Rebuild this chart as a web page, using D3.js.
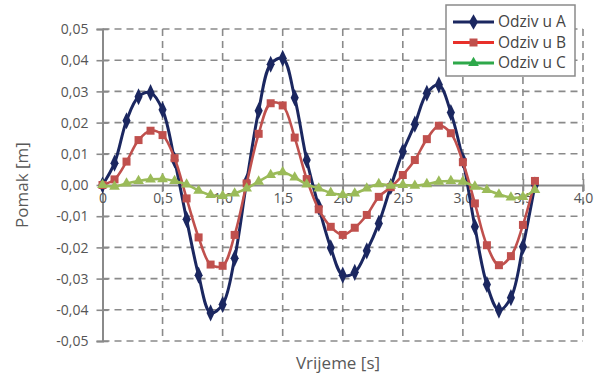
<!DOCTYPE html>
<html>
<head>
<meta charset="utf-8">
<script src="https://cdn.jsdelivr.net/npm/d3@7"></script>
<style>
  html, body { margin: 0; padding: 0; background: #fff; }
  svg { display: block; font-family: "Open Sans", sans-serif; }
  .tick-label { fill: #555; font-size: 14px; }
  .axis-title { fill: #595959; font-size: 17px; }
</style>
</head>
<body>
<div id="chart"></div>
<script>
'use strict';

// time steps [s]
const times = [0, 0.1, 0.2, 0.3, 0.4, 0.5, 0.6, 0.7, 0.8, 0.9, 1.0, 1.1, 1.2, 1.3, 1.4, 1.5, 1.6, 1.7, 1.8,
  1.9, 2.0, 2.1, 2.2, 2.3, 2.4, 2.5, 2.6, 2.7, 2.8, 2.9, 3.0, 3.1, 3.2, 3.3, 3.4, 3.5, 3.6];

const odzivA = [0, 0.0070, 0.0206, 0.0283, 0.0296, 0.0241, 0.0080, -0.0110, -0.0289, -0.0410, -0.0383,
  -0.0235, 0.0010, 0.0238, 0.0387, 0.0406, 0.0280, 0.0080, -0.0070, -0.0201, -0.0289, -0.0280, -0.0211,
  -0.0123, -0.0005, 0.0107, 0.0195, 0.0294, 0.0321, 0.0232, 0.0080, -0.0134, -0.0319, -0.0401, -0.0361,
  -0.0198, 0.0000];

const odzivB = [0, 0.0018, 0.0075, 0.0144, 0.0174, 0.0160, 0.0086, -0.0043, -0.0168, -0.0255, -0.0259,
  -0.0160, 0.0005, 0.0164, 0.0262, 0.0255, 0.0152, 0.0019, -0.0078, -0.0134, -0.0160, -0.0137, -0.0096,
  -0.0038, -0.0007, 0.0032, 0.0080, 0.0147, 0.0190, 0.0166, 0.0073, -0.0059, -0.0193, -0.0257, -0.0228,
  -0.0128, 0.0013];

const odzivC = [0, -0.0005, 0.0005, 0.0013, 0.0018, 0.0019, 0.0013, 0.0002, -0.0018, -0.0032, -0.0035,
  -0.0027, -0.0011, 0.0011, 0.0032, 0.0041, 0.0024, 0.0002, -0.0011, -0.0025, -0.0032, -0.0027, -0.0011,
  0.0003, -0.0002, 0.0000, -0.0002, 0.0003, 0.0011, 0.0013, 0.0011, -0.0005, -0.0016, -0.0030, -0.0040,
  -0.0038, -0.0016];

const seriesNames = ['Odziv u A', 'Odziv u B', 'Odziv u C'];
const xTicks = [0, 0.5, 1.0, 1.5, 2.0, 2.5, 3.0, 3.5, 4.0];
const yTicks = [-0.05, -0.04, -0.03, -0.02, -0.01, 0, 0.01, 0.02, 0.03, 0.04, 0.05];

const fmtY = (d) => d.toFixed(2).replace('.', ',').replace('-0,00', '0,00');
const fmtX = (d) => d === 0 ? '0' : d.toFixed(1).replace('.', ',');

const width = 605, height = 376;
const padding = { top: 29, right: 22, bottom: 35, left: 102.5 };
const innerWidth = width - padding.left - padding.right;
const innerHeight = height - padding.top - padding.bottom;

const svg = d3.select('#chart').append('svg')
  .attr('width', width)
  .attr('height', height);

const graph = svg.append('g')
  .attr('transform', 'translate(' + padding.left + ',' + padding.top + ')');

let x = d3.scaleLinear().domain([0, 4]).range([0, innerWidth]),
  y = d3.scaleLinear().domain([-0.05, 0.05]).range([innerHeight, 0]);

const gridColor = '#8a8a8a';

// dashed grid
graph.append('g').selectAll('line').data(yTicks).enter()
  .append('line')
  .attr('x1', 0).attr('x2', innerWidth)
  .attr('y1', (d) => y(d)).attr('y2', (d) => y(d))
  .attr('stroke', gridColor).attr('stroke-width', 1.6)
  .attr('stroke-dasharray', '7,5')
  .style('display', (d) => d === 0 ? 'none' : null);

graph.append('g').selectAll('line').data(xTicks.slice(1)).enter()
  .append('line')
  .attr('x1', (d) => x(d)).attr('x2', (d) => x(d))
  .attr('y1', 0).attr('y2', innerHeight)
  .attr('stroke', gridColor).attr('stroke-width', 1.6)
  .attr('stroke-dasharray', '7,5');

// y axis (ticks on both sides)
const yAxis = d3.axisLeft(y).tickValues(yTicks).tickSize(6).tickFormat(fmtY);
const yG = graph.append('g').call(yAxis);
yG.attr('font-size', null).attr('font-family', null);
yG.select('.domain').attr('stroke', gridColor).attr('stroke-width', 2);
yG.selectAll('.tick line').attr('x1', 6).attr('x2', -6).attr('stroke', gridColor).attr('stroke-width', 1.6);
yG.selectAll('.tick text').attr('class', 'tick-label').attr('x', -14).attr('dy', '0.34em');

// x axis at y = 0
const xAxis = d3.axisBottom(x).tickValues(xTicks).tickSize(6).tickFormat(fmtX);
const xG = graph.append('g')
  .attr('transform', 'translate(0,' + y(0) + ')')
  .call(xAxis);
xG.attr('font-size', null).attr('font-family', null);
xG.select('.domain').attr('stroke', gridColor).attr('stroke-width', 2);
xG.selectAll('.tick line').attr('y1', -6).attr('y2', 6).attr('stroke', gridColor).attr('stroke-width', 1.6);
xG.selectAll('.tick text').attr('class', 'tick-label').attr('y', 8).attr('dy', '0.71em');

// series
const series = [
  { name: seriesNames[0], values: odzivA, color: '#1b2760', legendColor: '#1b2760', symbol: d3.symbolDiamond, size: 70, lw: 3 },
  { name: seriesNames[1], values: odzivB, color: '#c0504d', legendColor: '#e8302a', symbol: d3.symbolSquare, size: 64, lw: 2.6 },
  { name: seriesNames[2], values: odzivC, color: '#9bbb59', legendColor: '#2ea84a', symbol: d3.symbolTriangle, size: 50, lw: 2.6 }
];

const line = d3.line()
  .x((d) => x(d[0]))
  .y((d) => y(d[1]))
  .curve(d3.curveCatmullRom.alpha(0.5));

// excel order: first series at the bottom
series.forEach((s) => {
  const pts = times.map((t, i) => [t, s.values[i]]);
  const g = graph.append('g').attr('class', 'series');
  g.append('path')
    .datum(pts)
    .attr('d', line)
    .attr('fill', 'none')
    .attr('stroke', s.color)
    .attr('stroke-width', s.lw)
    .attr('stroke-linejoin', 'round');
  g.selectAll('path.marker').data(pts).enter()
    .append('path')
    .attr('class', 'marker')
    .attr('d', d3.symbol().type(s.symbol).size(s.size))
    .attr('fill', s.color)
    .attr('transform', (d) => 'translate(' + x(d[0]) + ',' + y(d[1]) + ')' + (s.symbol === d3.symbolDiamond ? ' scale(0.9,1.1)' : ''));
});

// axis titles
svg.append('text')
  .attr('class', 'axis-title')
  .attr('transform', 'translate(28,' + (padding.top + y(0)) + ') rotate(-90)')
  .attr('text-anchor', 'middle')
  .text('Pomak [m]');

svg.append('text')
  .attr('class', 'axis-title')
  .attr('x', 338).attr('y', 369)
  .attr('text-anchor', 'middle')
  .text('Vrijeme [s]');

// legend
const legend = svg.append('g').attr('transform', 'translate(446,5)');
legend.append('rect')
  .attr('width', 129).attr('height', 71)
  .attr('fill', '#fff')
  .attr('stroke', '#8a8a8a').attr('stroke-width', 1.5);

series.forEach((s, i) => {
  const row = legend.append('g').attr('transform', 'translate(0,' + (17 + i * 20.5) + ')');
  row.append('line')
    .attr('x1', 7).attr('x2', 48)
    .attr('stroke', s.legendColor).attr('stroke-width', 3);
  row.append('path')
    .attr('d', d3.symbol().type(s.symbol).size(s.size))
    .attr('fill', i === 1 ? '#c0504d' : s.legendColor)
    .attr('transform', 'translate(27.5,0)');
  row.append('text')
    .attr('x', 52).attr('dy', '0.35em')
    .attr('fill', '#444')
    .style('font-size', '15.5px')
    .text(s.name);
});
</script>
</body>
</html>
